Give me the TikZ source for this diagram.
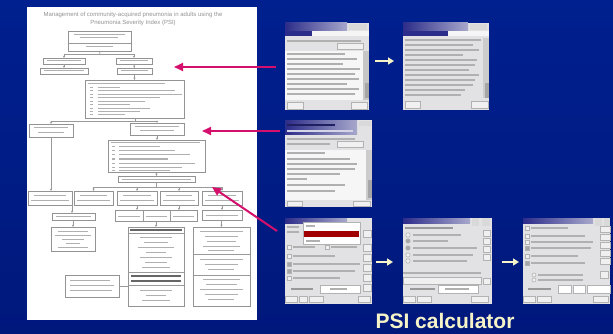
\documentclass[tikz,border=0pt]{standalone}
\usepackage{fontspec}
\setmainfont{Liberation Sans}
\usetikzlibrary{arrows.meta}
\definecolor{bgtop}{HTML}{00208F}
\definecolor{bgmid}{HTML}{0A3CD2}
\definecolor{bgbot}{HTML}{00187C}
\definecolor{mag}{HTML}{D4106C}
\definecolor{pale}{HTML}{F6F3C8}
\definecolor{scrbg}{HTML}{E2E2E4}
\definecolor{navy}{HTML}{2C2C8A}
\definecolor{navyl}{HTML}{A8A8CC}
\definecolor{dred}{HTML}{A00000}
\tikzset{
 fbox/.style={draw=gray!85, line width=0.8pt, fill=white, inner sep=0pt, outer sep=0pt, anchor=north west},
 fl/.style={draw=gray!80, line width=0.7pt},
 fa/.style={fl, -{Stealth[length=2.4pt,width=2.2pt]}},
 ftx/.style={draw=gray!62, line width=1pt},
 fdk/.style={draw=gray!80!black, line width=1.6pt},
 scr/.style={fill=scrbg, inner sep=0pt, outer sep=0pt, anchor=north west},
 tx/.style={draw=gray!62, line width=1.3pt},
 txd/.style={draw=gray!80, line width=1.3pt},
 btn/.style={draw=gray!60, line width=0.6pt, fill=gray!12},
 wbox/.style={draw=gray!60, line width=0.6pt, fill=white},
 tbar/.style={left color=navy, right color=navyl},
 magarrow/.style={draw=mag, line width=2pt, -{Triangle[length=9pt,width=8pt]}},
 yarrow/.style={draw=pale, line width=2.6pt, -{Triangle[length=6pt,width=7pt]}},
}
\newcommand\flowbox[5]{\node[fbox,minimum width={#4-#2},minimum height={#5-#3}] (#1) at (#2,#3) {};}
\begin{document}
\begin{tikzpicture}[x=1pt,y=-1pt]
\useasboundingbox (0,0) rectangle (613,334);
\shade[top color=bgtop, middle color=bgmid, bottom color=bgbot] (0,0) rectangle (613,334);

% ---------- page with flowchart ----------
\node[fill=white, anchor=north west, minimum width=230, minimum height=313, inner sep=0pt] (page) at (27,7) {};
\node[font=\fontsize{6}{8}\selectfont, text=gray!85, align=center] (title) at (133,19) {Management of community-acquired pneumonia in adults using the\\Pneumonia Severity Index (PSI)};

\flowbox{b1}{68}{31}{131}{51}
\draw[fl] (68,43) -- (131,43);
\draw[ftx] (74,34.5) -- (125,34.5);
\draw[ftx] (80,38) -- (118,38);
\draw[ftx] (86,47) -- (113,47);
\flowbox{b2L}{43}{58}{85}{64}
\flowbox{b2R}{116}{58}{152}{64}
\flowbox{b3L}{40}{68}{88}{74}
\flowbox{b3R}{117}{68}{152}{74}
\foreach \n in {b2L,b2R,b3L,b3R} \draw[ftx] ([xshift=4pt]\n.west) -- ([xshift=-4pt]\n.east);
\flowbox{b4}{85}{80}{184}{118}
\draw[ftx] (88,83.5) -- (165,83.5);
\foreach \y/\e in {87.5/120,91/175,94.5/182,98/160,101.5/145,105/130,108.5/150,112/140,115/125}{
  \draw[ftx] (90,\y) -- (93,\y); \draw[ftx] (98,\y) -- (\e,\y);}
\flowbox{b5L}{29}{124}{73}{137}
\draw[ftx] (34,128) -- (68,128); \draw[ftx] (38,132.5) -- (64,132.5);
\flowbox{b5R}{130}{123}{184}{135}
\draw[ftx] (135,127) -- (179,127); \draw[ftx] (140,131) -- (174,131);
\flowbox{b6}{108}{140}{205}{172}
\draw[ftx] (111,143) -- (200,143);
\foreach \y/\e in {147/160,151/175,155/190,159/168,163/195,167/182,170/170}{
  \draw[ftx] (112,\y) -- (115,\y); \draw[ftx] (119,\y) -- (\e,\y);}
\flowbox{b7}{118}{176}{195}{182}
\draw[ftx] (122,179) -- (191,179);
\flowbox{r1}{28}{191}{72}{205}
\flowbox{r2}{74}{191}{113}{205}
\flowbox{r3}{117}{191}{157}{205}
\flowbox{r4}{160}{191}{198}{205}
\flowbox{r5}{202}{191}{242}{205}
\foreach \n in {r1,r2,r3,r4,r5}{
  \draw[ftx] ([xshift=6pt,yshift=3pt]\n.west) -- ([xshift=-6pt,yshift=3pt]\n.east);
  \draw[ftx] ([xshift=3pt,yshift=-2pt]\n.west) -- ([xshift=-3pt,yshift=-2pt]\n.east);}
\flowbox{c1}{52}{213}{95}{220}
\flowbox{c2}{115}{210}{197}{221}
\flowbox{c3}{202}{210}{242}{220}
\draw[fl] (143,210) -- (143,221); \draw[fl] (170,210) -- (170,221);
\draw[ftx] (56,216.5) -- (91,216.5);
\draw[ftx] (118,216) -- (140,216); \draw[ftx] (146,216) -- (167,216); \draw[ftx] (173,216) -- (194,216);
\draw[ftx] (206,215) -- (238,215);
\flowbox{d1}{51}{227}{95}{251}
\foreach \y/\a/\b in {231/58/88,235/55/91,239/62/84,243/66/80,247/58/88} \draw[ftx] (\a,\y) -- (\b,\y);
\flowbox{d2}{128}{227}{184}{306}
\draw[fdk] (130,230) -- (182,230);
\draw[fl] (128,233) -- (184,233);
\foreach \y/\a/\b in {237/140/172,242/144/168,247/138/174,252/146/166,257/140/172,262/145/167,267/142/170} \draw[ftx] (\a,\y) -- (\b,\y);
\draw[fl] (128,272) -- (184,272);
\draw[fdk] (131,276) -- (181,276);
\draw[fdk] (131,281) -- (181,281);
\draw[fl] (128,285) -- (184,285);
\foreach \y/\a/\b in {290/140/172,295/146/166,300/142/170} \draw[ftx] (\a,\y) -- (\b,\y);
\flowbox{d3}{193}{227}{250}{306}
\draw[fl] (193,254) -- (250,254); \draw[fl] (193,275) -- (250,275);
\foreach \y/\a/\b in {231/200/243,236/205/238,241/207/236,246/203/240,250/208/234,259/200/243,264/205/238,269/208/234,279/203/240,284/206/237,289/200/243,294/205/238,299/208/234} \draw[ftx] (\a,\y) -- (\b,\y);
\flowbox{e1}{65}{275}{119}{297}
\foreach \y/\a/\b in {280/70/110,285/70/114,290/70/112} \draw[ftx] (\a,\y) -- (\b,\y);

% flowchart connectors
\coordinate (j1) at (100,54.5);
\draw[fl] (b1.south) -- (j1);
\draw[fl] (j1 -| b2L.north) -- (j1 -| b2R.north);
\draw[fa] (j1 -| b2L.north) -- (b2L.north);
\draw[fa] (j1 -| b2R.north) -- (b2R.north);
\draw[fa] (b2L) -- (b3L);
\draw[fa] (b2R) -- (b3R);
\draw[fa] (b3R.south) -- (b3R.south |- b4.north);
\coordinate (j2) at (135,121);
\draw[fl] (b4.south -| j2) -- (j2);
\draw[fl] (j2 -| b5L.north) -- (j2 -| b5R.north);
\draw[fa] (j2 -| b5L.north) -- (b5L.north);
\draw[fa] (j2 -| b5R.north) -- (b5R.north);
\draw[fa] (b5R.south) -- (b5R.south |- b6.north);
\draw[fa] (b6.south -| b7.north) -- (b7.north);
\coordinate (j3) at (156.5,187);
\draw[fl] (b7.south) -- (j3);
\draw[fl] (j3 -| r2.north) -- (j3 -| r5.north);
\foreach \n in {r2,r3,r4,r5} \draw[fa] (j3 -| \n.north) -- (\n.north);
\draw[fa] (b5L.south -| 51,0) -- (r1.north -| 51,0);
\draw[fa] (r1.south east) -- (r1.south east |- c1.north);
\draw[fa] (r3.south) -- (r3.south |- c2.north);
\draw[fa] (r4.south) -- (r4.south |- c2.north);
\draw[fa] (r5.south) -- (c3.north);
\draw[fa] (c1.south -| d1.north) -- (d1.north);
\draw[fa] (c2.south -| d2.north) -- (d2.north);
\draw[fa] (c3.south -| d3.north) -- (d3.north);
\draw[fl] (e1.east) -- (e1.east -| d2.west);

% ---------- screenshots ----------
\node[scr,minimum width=84,minimum height=87] (s1) at (285,23) {};
\begin{scope}[shift={(285,23)}]
 \fill[tbar] (0,0) rectangle (62,8);
 \fill[navy] (0,8) rectangle (27,13);
 \fill[white!92!gray] (27,8) rectangle (84,13);
 \fill[gray!30] (64,1) rectangle (82,7);
 \draw[tx] (2,18) -- (76,18);
 \draw[btn] (52,20) rectangle (78,26);
 \fill[white!93!gray] (0,28) rectangle (78,77);
 \fill[gray!45] (78,28) rectangle (84,77);
 \fill[gray!70] (80,60) rectangle (84,75);
 \foreach \y/\e in {31/60,36/72,41/58,46/75,51/70,56/74,61/62,66/74,71/70} \draw[tx] (2,\y) -- (\e,\y);
 \draw[btn] (2,79) rectangle (18,86);
 \draw[btn] (66,79) rectangle (82,86);
\end{scope}
\node[scr,minimum width=86,minimum height=87] (s2) at (403,23) {};
\begin{scope}[shift={(403,23)}]
 \fill[tbar] (0,0) rectangle (65,8);
 \fill[navy] (0,8) rectangle (45,13);
 \fill[white!92!gray] (45,8) rectangle (86,13);
 \fill[gray!30] (67,1) rectangle (84,7);
 \foreach \y/\e in {17/78,22/70,27/76,32/60,37/74,42/72,47/66,52/76,57/72,62/70,67/62,72/58} \draw[tx] (2,\y) -- (\e,\y);
 \fill[gray!40] (80,15) rectangle (86,75);
 \fill[gray!70] (82,60) rectangle (86,75);
 \draw[btn] (2,78) rectangle (17,85);
 \draw[btn] (68,78) rectangle (85,85);
\end{scope}
\node[scr,minimum width=87,minimum height=87] (s3) at (285,120) {};
\begin{scope}[shift={(285,120)}]
 \fill[tbar] (0,1) rectangle (72,15);
 \draw[draw=navy!70!black, line width=1.3pt] (2,5) -- (50,5);
 \draw[draw=white!80!navy, line width=1.3pt] (2,11) -- (68,11);
 \fill[gray!30] (74,1) rectangle (86,6);
 \draw[tx] (2,19) -- (70,19);
 \draw[tx] (2,24) -- (45,24);
 \draw[btn] (52,21) rectangle (78,27);
 \fill[white!93!gray] (0,30) rectangle (81,80);
 \fill[gray!40] (81,30) rectangle (87,80);
 \fill[gray!70] (83,60) rectangle (87,78);
 \foreach \y/\e in {33/40,39/65,44/72,49/70,54/55,59/22,65/60,71/50} \draw[tx] (2,\y) -- (\e,\y);
 \draw[btn] (2,81) rectangle (17,86);
 \draw[btn] (68,81) rectangle (85,86);
\end{scope}
\node[scr,minimum width=87,minimum height=86] (s4) at (285,218) {};
\begin{scope}[shift={(285,218)}]
 \fill[tbar] (0,0) rectangle (62,5);
 \draw[tx] (2,9) -- (14,9); \draw[tx] (2,14) -- (14,14);
 \draw[wbox] (18,4) rectangle (75,26);
 \fill[dred] (19,13) rectangle (74,19);
 \draw[tx] (21,8) -- (30,8); \draw[tx] (21,23) -- (35,23);
 \draw[btn] (78,12) rectangle (86,19);
 \draw[btn] (2,27) rectangle (6,31); \draw[tx] (8,29) -- (30,29);
 \draw[btn] (40,27) rectangle (44,31); \draw[tx] (46,29) -- (72,29);
 \foreach \y/\e/\f in {38/50/gray!12,46/75/gray!70,53/70/gray!70,60/55/gray!12}{
   \draw[btn, fill=\f] (2,\y-2) rectangle (6,\y+2); \draw[tx] (8,\y) -- (\e,\y);}
 \foreach \y in {26,36,46,56,66} \draw[btn] (78,\y) rectangle (86,\y+7);
 \draw[txd] (6,71) -- (28,71);
 \draw[wbox] (35,67) rectangle (75,75);
 \draw[tx] (45,71) -- (62,71);
 \draw[btn] (0,78) rectangle (12,84); \draw[btn] (14,78) rectangle (22,84); \draw[btn] (24,78) rectangle (38,84);
 \draw[btn] (73,78) rectangle (85,84);
\end{scope}
\node[scr,minimum width=89,minimum height=86] (s5) at (403,218) {};
\begin{scope}[shift={(403,218)}]
 \fill[tbar] (0,0) rectangle (67,5);
 \fill[gray!30] (69,0) rectangle (76,8); \fill[gray!30] (79,0) rectangle (87,8);
 \draw[txd] (2,10) -- (50,10);
 \foreach \y/\e/\f in {17/58/gray!12,23/45/gray!70,30/74/gray!70,37/70/gray!12,43/64/gray!12}{
   \draw[btn, fill=\f] (5,\y) circle (2.2); \draw[tx] (10,\y) -- (\e,\y);}
 \foreach \y in {12,20,28,36} \draw[btn] (80,\y) rectangle (87,\y+6);
 \draw[tx] (0,55) -- (78,55);
 \draw[btn] (0,59) rectangle (78,66);
 \draw[btn] (80,60) rectangle (87,66);
 \draw[txd] (7,71) -- (32,71);
 \draw[wbox] (35,67) rectangle (75,75);
 \draw[tx] (42,71) -- (66,71);
 \draw[btn] (0,78) rectangle (12,84); \draw[btn] (14,78) rectangle (28,84);
 \draw[btn] (68,78) rectangle (85,84);
\end{scope}
\node[scr,minimum width=87,minimum height=86] (s6) at (523,218) {};
\begin{scope}[shift={(523,218)}]
 \fill[tbar] (0,0) rectangle (70,5);
 \fill[gray!30] (72,0) rectangle (79,8); \fill[gray!30] (81,0) rectangle (87,8);
 \foreach \y/\e/\f in {10/45/gray!12,18/62/gray!12,24/70/gray!12,30/68/gray!70,38/55/gray!12,45/62/gray!70}{
   \draw[btn, fill=\f] (2,\y-2) rectangle (6,\y+2); \draw[tx] (8,\y) -- (\e,\y);}
 \foreach \y in {8,16,24,32,40} \draw[btn] (77,\y) rectangle (87,\y+6);
 \foreach \y in {57,62}{\draw[btn] (11,\y) circle (2); \draw[tx] (15,\y) -- (60,\y);}
 \draw[btn] (77,53) rectangle (85,60);
 \draw[txd] (5,71) -- (28,71);
 \draw[wbox] (35,67) rectangle (48,75); \draw[wbox] (50,67) rectangle (62,75); \draw[wbox] (64,67) rectangle (87,75);
 \draw[btn] (0,78) rectangle (12,84); \draw[btn] (14,78) rectangle (28,84);
 \draw[btn] (70,78) rectangle (85,84);
\end{scope}

% ---------- arrows ----------
\draw[yarrow, shorten <=6pt, shorten >=9pt] ([yshift=5.5pt]s1.east) -- ([yshift=5.5pt]s2.west);
\draw[yarrow, shorten <=4pt, shorten >=10pt] ([yshift=-1pt]s4.east) -- ([yshift=-1pt]s5.west);
\draw[yarrow, shorten <=10pt, shorten >=4pt] ([yshift=-1pt]s5.east) -- ([yshift=-1pt]s6.west);

\coordinate (m1) at (276,67); \coordinate (t1) at (174,67);
\coordinate (m2) at (280,131); \coordinate (t2) at (202,131);
\coordinate (m3) at (277,231); \coordinate (t3) at (212,187);
\draw[magarrow] (m1) -- (t1);
\draw[magarrow] (m2) -- (t2);
\draw[magarrow] (m3) -- (t3);

\node[font=\bfseries\fontsize{21}{24}\selectfont, text=pale, anchor=base] (psi) at (445,328) {PSI calculator};
\end{tikzpicture}
\end{document}
